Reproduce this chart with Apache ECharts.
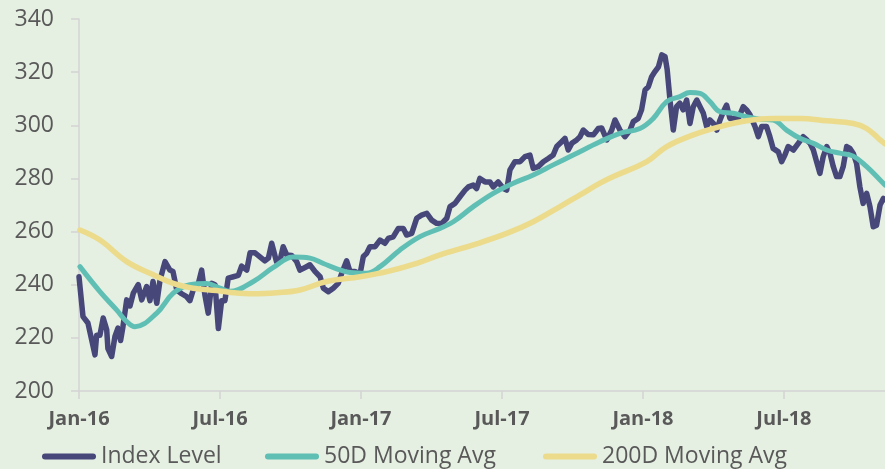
<!DOCTYPE html>
<html lang="en">
<head>
    <meta charset="UTF-8">
    <title>Index Level vs Moving Averages</title>
    <style>
        html, body { margin: 0; padding: 0; background: #e5efe2; }
    </style>
</head>
<body>

<div id="main" style="width: 885px;height:469px;"></div>

<script src="https://cdn.jsdelivr.net/npm/echarts@6/dist/echarts.min.js" charset="utf-8"></script>

<script type="text/javascript" charset="utf-8">
    // x values are months since Jan-16
    var tickLabels = ['Jan-16', 'Jul-16', 'Jan-17', 'Jul-17', 'Jan-18', 'Jul-18'];

    var indexLevel = [
        [0, 243], [0.04, 243], [0.17, 228], [0.38, 225.6], [0.54, 219.2], [0.68, 213.6], [0.75, 221], [0.89, 221],
        [1.03, 227.5], [1.18, 223], [1.23, 216], [1.39, 213], [1.53, 220.5], [1.66, 223.7], [1.77, 219], [1.87, 224.2],
        [2.03, 234.3], [2.17, 232], [2.31, 236.8], [2.52, 240], [2.67, 234.3], [2.88, 239.3], [3.02, 234], [3.15, 241.2],
        [3.31, 233], [3.45, 241.8], [3.66, 248.7], [3.87, 245.5], [4.00, 245], [4.16, 238], [4.37, 236.6], [4.58, 235.5],
        [4.72, 234], [4.86, 238], [5.08, 240.5], [5.22, 245.5], [5.36, 236], [5.50, 229.3], [5.65, 240.5], [5.79, 240],
        [5.93, 223.5], [6.07, 234], [6.21, 234], [6.35, 242.5], [6.57, 243], [6.78, 243.5], [6.92, 247], [7.14, 245.5],
        [7.28, 252], [7.49, 252], [7.70, 250.5], [7.91, 249], [8.06, 250], [8.20, 255.6], [8.41, 248.5], [8.55, 249],
        [8.69, 254.3], [8.84, 251.2], [9.05, 251], [9.26, 248.7], [9.40, 245.5], [9.62, 246.5], [9.83, 247.5], [10.04, 245],
        [10.26, 243], [10.40, 238.7], [10.61, 237.4], [10.82, 238.7], [11.03, 240.5], [11.18, 244.3], [11.39, 249], [11.53, 245],
        [11.74, 245], [11.96, 244], [12.10, 250.6], [12.24, 251.8], [12.38, 254.3], [12.60, 254.3], [12.81, 256.8], [13.02, 255.6],
        [13.16, 257.4], [13.37, 258], [13.59, 261.2], [13.80, 261.2], [13.94, 258.7], [14.16, 259.3], [14.37, 265], [14.58, 266.2],
        [14.80, 266.9], [15.01, 264.3], [15.22, 263.1], [15.43, 263], [15.65, 265], [15.79, 269.4], [16.00, 270.6], [16.21, 273.1],
        [16.43, 275.6], [16.57, 276.8], [16.78, 277.5], [16.92, 276.2], [17.06, 280], [17.28, 278.7], [17.49, 278.7], [17.63, 276.8],
        [17.84, 278.7], [18.06, 276.2], [18.20, 275.6], [18.34, 283.2], [18.55, 286.3], [18.77, 286.3], [18.98, 288.2], [19.19, 288.8],
        [19.33, 283.8], [19.54, 284.4], [19.76, 286.3], [19.97, 287.5], [20.18, 288.8], [20.33, 292], [20.54, 293.8], [20.68, 295.1],
        [20.82, 290.7], [20.97, 293.2], [21.18, 294.5], [21.32, 295.7], [21.46, 298.2], [21.67, 296.5], [21.89, 296.4], [22.10, 298.8],
        [22.24, 299], [22.46, 294.5], [22.67, 298.2], [22.81, 302], [23.02, 298.2], [23.23, 295.7], [23.45, 298.2], [23.59, 301.4],
        [23.80, 302.6], [23.94, 305.8], [24.09, 313.3], [24.23, 314.5], [24.37, 318.3], [24.51, 320.2], [24.66, 322], [24.80, 326.5],
        [24.94, 325.8], [25.03, 321], [25.15, 309.5], [25.29, 298.2], [25.43, 307], [25.57, 308.3], [25.71, 305.8], [25.86, 309.5],
        [26.00, 300.7], [26.14, 307], [26.29, 309.5], [26.43, 307], [26.57, 304.5], [26.71, 299.5], [26.85, 302], [27.00, 300.7],
        [27.14, 298.2], [27.28, 302], [27.42, 305.1], [27.56, 307.6], [27.70, 302.6], [28.06, 302.6], [28.27, 307], [28.41, 305.8],
        [28.55, 304], [28.77, 299.5], [28.91, 295.7], [29.05, 299.5], [29.26, 299.5], [29.40, 295.7], [29.54, 291.3], [29.76, 290],
        [29.90, 286.3], [30.04, 288.8], [30.18, 292], [30.40, 290.7], [30.61, 293.2], [30.82, 295.7], [30.97, 294.5], [31.11, 293.2],
        [31.25, 290.7], [31.39, 286.3], [31.53, 281.9], [31.67, 288.2], [31.82, 292], [31.96, 289.4], [32.10, 284.4], [32.24, 280.7],
        [32.38, 280.7], [32.52, 284.4], [32.67, 292], [32.81, 291.3], [32.95, 289.4], [33.09, 285.7], [33.23, 276.9], [33.37, 270.6],
        [33.52, 274.4], [33.66, 269.4], [33.80, 261.8], [33.94, 262.4], [34.09, 270], [34.23, 272.5], [34.3, 272]
    ];

    var ma50 = [
        [0.04, 246.8], [0.89, 237.4], [1.60, 230.5], [2.03, 226.1], [2.38, 224.2], [3.31, 229.3], [4.01, 236.8], [4.72, 240],
        [5.43, 240.5], [6.00, 238.7], [6.43, 237.5], [7.42, 241.2], [8.27, 246.5], [9.12, 250.4], [9.83, 250], [10.40, 248],
        [10.97, 246], [11.53, 244.6], [12.24, 244.3], [12.81, 246.8], [13.66, 253.1], [14.51, 258.1], [15.36, 261.2], [15.93, 263.7],
        [16.78, 269.4], [17.63, 274.4], [18.48, 278.2], [19.33, 281.3], [20.18, 285.1], [21.03, 288.8], [22.17, 293.8], [23.02, 297],
        [23.87, 298.8], [24.44, 302.6], [25.01, 308.9], [25.57, 310.8], [26.00, 312.3], [26.43, 312], [26.85, 308.9], [27.28, 305.1],
        [27.84, 304.5], [28.41, 303.2], [28.97, 302.3], [29.54, 302], [30.11, 298.2], [30.68, 295.1], [31.25, 293.2], [31.82, 290.7],
        [32.38, 289.5], [32.95, 288.4], [33.52, 284.4], [34.09, 279.4], [34.3, 277.5]
    ];

    var ma200 = [
        [0.04, 260.6], [0.89, 256.8], [2.03, 248.7], [3.02, 244.3], [4.01, 240.5], [4.86, 238.7], [5.86, 237.8], [6.57, 237],
        [7.42, 236.6], [8.41, 237], [9.40, 238], [10.54, 241.2], [11.96, 243], [13.10, 244.9], [14.37, 248], [15.36, 251.2],
        [16.78, 255], [18.20, 259.3], [19.33, 263.7], [20.47, 269.4], [21.32, 273.8], [22.17, 278.2], [22.74, 280.7], [24.16, 286.3],
        [25.01, 292], [26.14, 296.4], [27.28, 299.5], [28.41, 301.7], [29.54, 302.6], [30.68, 302.6], [31.82, 301.7], [32.95, 300.7],
        [33.52, 298.8], [34.09, 294.5], [34.3, 293]
    ];

    var seriesNames = ['Index Level', '50D Moving Avg', '200D Moving Avg'];
    var seriesColors = ['#47477a', '#5fbfb4', '#ebdb8b'];

    var textColor = '#595959';
    var axisColor = '#d4d4d4';
    var capsule = 'path://M3,0 L51,0 A3,3 0 0 1 51,6 L3,6 A3,3 0 0 1 3,0 Z';

    function makeLegend(name, left) {
        return {
            data: [name],
            left: left,
            top: 445,
            padding: 0,
            icon: capsule,
            itemWidth: 54,
            itemHeight: 6,
            textStyle: { color: textColor, fontSize: 23, fontFamily: 'Open Sans' }
        };
    }

    var myChart = echarts.init(document.getElementById('main'));

    var option = {
        backgroundColor: '#e5efe2',
        animation: false,
        color: seriesColors,
        legend: [
            makeLegend(seriesNames[0], 42),
            makeLegend(seriesNames[1], 265),
            makeLegend(seriesNames[2], 543)
        ],
        grid: {
            left: 79,
            right: 0,
            top: 19,
            bottom: 78
        },
        xAxis: {
            type: 'value',
            min: 0,
            max: 34.3,
            interval: 6,
            splitLine: { show: false },
            axisLine: { lineStyle: { color: axisColor, width: 1.5 } },
            axisTick: { length: 8, lineStyle: { color: axisColor, width: 1.5 } },
            axisLabel: {
                margin: 18,
                showMaxLabel: false,
                color: textColor,
                fontSize: 20,
                fontWeight: 'bold',
                fontFamily: 'Open Sans',
                formatter: function (v) {
                    var label = tickLabels[Math.round(v / 6)];
                    return label === undefined ? '' : label;
                }
            }
        },
        yAxis: {
            type: 'value',
            min: 200,
            max: 340,
            interval: 20,
            splitLine: { show: false },
            axisLine: { show: true, lineStyle: { color: axisColor, width: 1.5 } },
            axisTick: { show: true, length: 8, lineStyle: { color: axisColor, width: 1.5 } },
            axisLabel: {
                margin: 25,
                color: textColor,
                fontSize: 23,
                fontFamily: 'Open Sans'
            }
        },
        series: [
            {
                name: seriesNames[0],
                type: 'line',
                symbol: 'none',
                data: indexLevel,
                lineStyle: { width: 5.5, color: seriesColors[0], cap: 'round', join: 'round' }
            },
            {
                name: seriesNames[1],
                type: 'line',
                symbol: 'none',
                smooth: 0.4,
                data: ma50,
                lineStyle: { width: 5, color: seriesColors[1], cap: 'round' }
            },
            {
                name: seriesNames[2],
                type: 'line',
                symbol: 'none',
                smooth: 0.4,
                data: ma200,
                lineStyle: { width: 5.5, color: seriesColors[2], cap: 'round' }
            }
        ]
    };

    myChart.setOption(option);
</script>
</body>
</html>
